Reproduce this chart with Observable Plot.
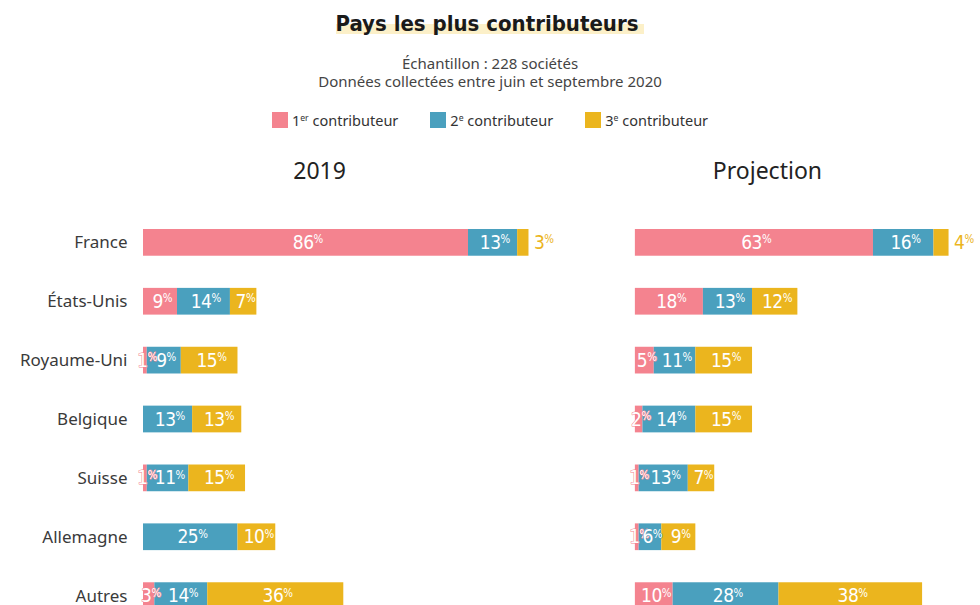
<!DOCTYPE html>
<html><head><meta charset="utf-8">
<script src="https://cdn.jsdelivr.net/npm/d3@7"></script>
<script src="https://cdn.jsdelivr.net/npm/@observablehq/plot@0.6"></script>
<style>
body{margin:0;background:#fff;font-family:"Noto Sans",sans-serif;color:#333;width:980px;overflow:hidden}
#hdr{height:130px;text-align:center}
.title{padding-top:10px;height:28px;line-height:28px;font-family:"DejaVu Sans Condensed","DejaVu Sans",sans-serif;font-weight:bold;font-size:22px;color:#1a1a1a}
.title span{background:linear-gradient(transparent 52%, #fcf0c8 52%, #fcf0c8 92%, transparent 92%);padding:0 6px 0 0}
.sub{margin-top:16px;font-size:15px;line-height:18px;color:#444}
.legend{margin-top:20px;height:20px;display:flex;justify-content:center;align-items:center;font-size:14.5px;color:#333}
.legend .item{display:flex;align-items:center;margin:0 16px}
.legend .sw{width:16px;height:16px;margin-right:4px}
.legend sup{font-size:0.6em;vertical-align:0.55em;line-height:0}
</style></head>
<body>
<div id="hdr">
  <div class="title"><span>Pays les plus contributeurs</span></div>
  <div class="sub">Échantillon : 228 sociétés<br>Données collectées entre juin et septembre 2020</div>
  <div class="legend" id="legend"></div>
</div>
<div id="chart"></div>
<script>
const periods = ["2019", "Projection"];
const countries = ["France", "États-Unis", "Royaume-Uni", "Belgique", "Suisse", "Allemagne", "Autres"];
const ranks = ["1", "2", "3"];
const rankSup = ["er", "e", "e"];
const rankText = "contributeur";
const colors = ["#f4838f", "#4aa0be", "#ebb51e"];

const y2019_r1 = [86, 9, 1, 0, 1, 0, 3];
const y2019_r2 = [13, 14, 9, 13, 11, 25, 14];
const y2019_r3 = [3, 7, 15, 13, 15, 10, 36];
const proj_r1 = [63, 18, 5, 2, 1, 1, 10];
const proj_r2 = [16, 13, 11, 14, 13, 6, 28];
const proj_r3 = [4, 12, 15, 15, 7, 9, 38];

const series = {"2019": [y2019_r1, y2019_r2, y2019_r3], "Projection": [proj_r1, proj_r2, proj_r3]};
const table = [];
for (const p of periods) {
  countries.forEach((c, i) => {
    ranks.forEach((r, j) => {
      const v = series[p][j][i];
      table.push({period: p, country: c, rank: r, value: v, outside: j === ranks.length - 1 && v < 5});
    });
  });
}

// legend
const lg = document.getElementById("legend");
ranks.forEach((r, j) => {
  const it = document.createElement("div");
  it.className = "item";
  it.innerHTML = `<div class="sw" style="background:${colors[j]}"></div><span>${r}<sup>${rankSup[j]}</sup> ${rankText}</span>`;
  lg.appendChild(it);
});

const labelFont = "DejaVu Sans Condensed, DejaVu Sans, sans-serif";
const plot = Plot.plot({
  width: 980, height: 479,
  marginLeft: 143, marginRight: 5, marginTop: 99, marginBottom: 0,
  style: {fontFamily: "Noto Sans, sans-serif", fontSize: "17px", color: "#3a3a3a", background: "transparent", overflow: "visible"},
  fx: {domain: periods, paddingInner: 0.3085, paddingOuter: 0, round: false, axis: null, label: null},
  x: {domain: [0, 90], axis: null},
  y: {domain: countries, paddingInner: 0.546, paddingOuter: 0, round: false, tickSize: 0, tickPadding: 16, label: null},
  color: {domain: ranks, range: colors},
  marks: [
    Plot.barX(table, Plot.stackX({x: "value", y: "country", fx: "period", fill: "rank"})),
    Plot.text(table, Plot.stackX({
      x: "value", y: "country", fx: "period", z: "rank",
      text: d => (!d.outside && d.value > 0) ? d.value + "%" : "",
      fill: "white", stroke: "rank", strokeWidth: 1, paintOrder: "stroke",
      fontSize: 19, fontFamily: labelFont, dx: 2
    })),
    Plot.text(table, Plot.stackX2({
      x: "value", y: "country", fx: "period", z: "rank",
      text: d => d.outside ? d.value + "%" : "",
      fill: "rank", textAnchor: "start", dx: 5,
      fontSize: 19, fontFamily: labelFont
    })),
    Plot.text([periods[0]], {fx: d => d, text: d => d, frameAnchor: "top", lineAnchor: "middle", dy: -58, dx: 6, fontSize: 23, fill: "#222"}),
    Plot.text([periods[1]], {fx: d => d, text: d => d, frameAnchor: "top", lineAnchor: "middle", dy: -58, dx: -38, fontSize: 23, fill: "#222"})
  ]
});

d3.select(plot).selectAll("text").each(function() {
  const m = /^(\d+)%$/.exec(this.textContent);
  if (m) {
    this.textContent = "";
    d3.select(this).append("tspan").attr("letter-spacing", "-0.5").text(m[1]);
    d3.select(this).append("tspan").attr("font-size", "0.6em").attr("dy", "-0.5em").text("%");
  }
});
document.getElementById("chart").appendChild(plot);
</script>
</body></html>
